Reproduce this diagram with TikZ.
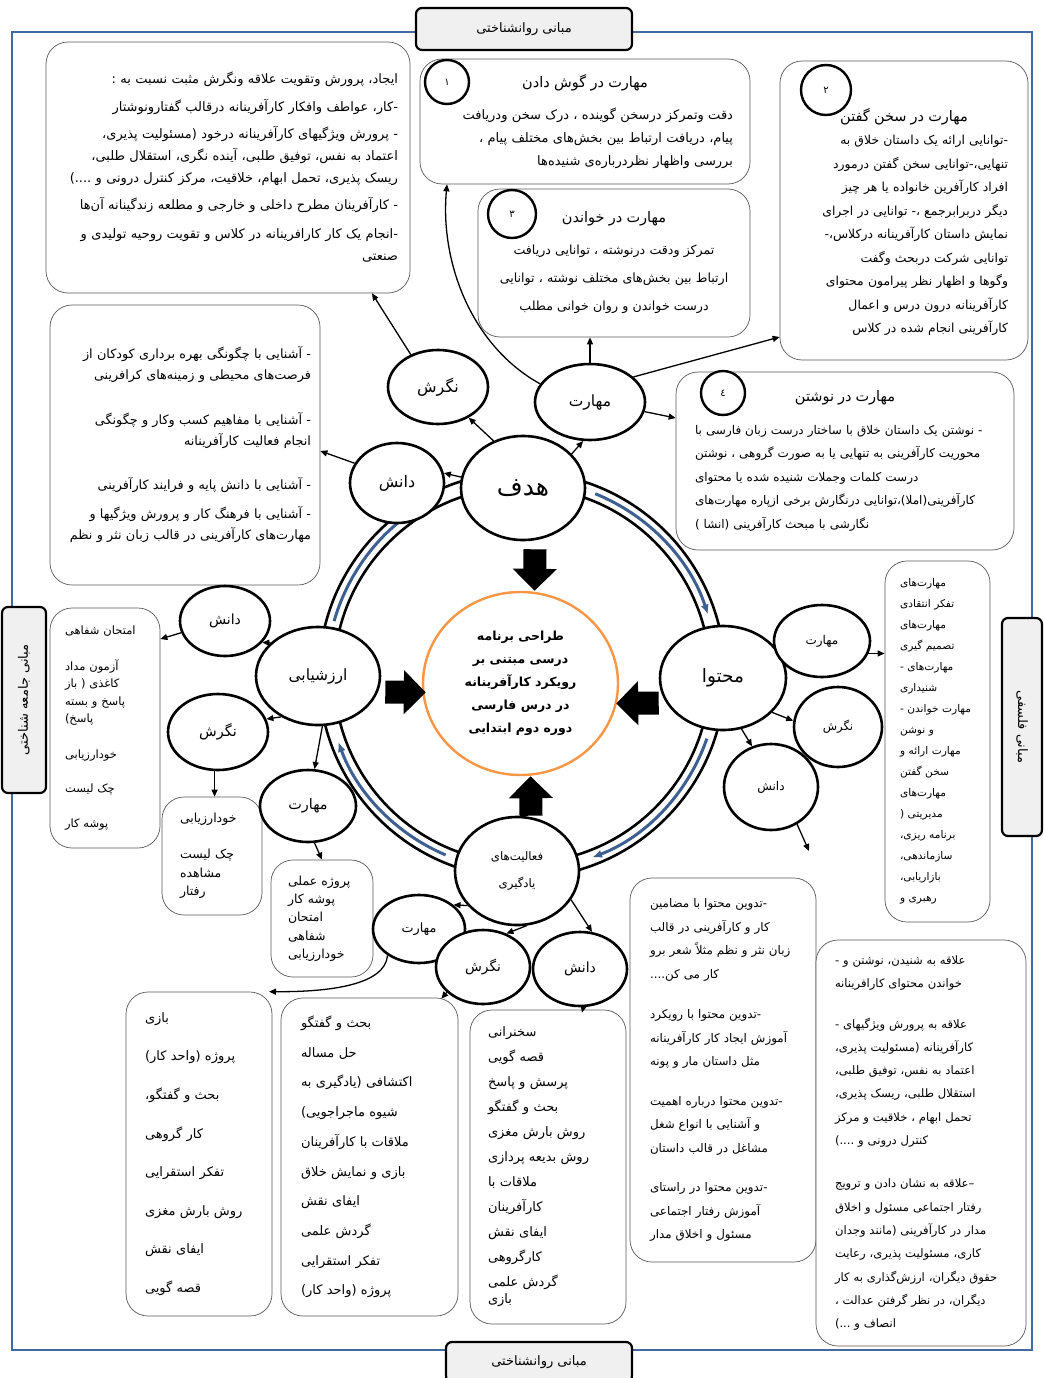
\documentclass[tikz,border=0pt]{standalone}
\usepackage{fontspec}
\usepackage{tikz}
\usetikzlibrary{shapes.geometric,arrows.meta,positioning}
\TeXXeTstate=1
\newfontfamily\fafont[Script=Arabic]{DejaVu Sans}
\newcommand{\rtxt}[1]{\beginR #1\endR}
\newcommand{\cardtitle}[1]{\hspace*{\fill}{\fontsize{14.5}{16}\selectfont\rtxt{#1}}\hspace*{\fill}\mbox{}}
\definecolor{frameblue}{RGB}{68,104,160}
\definecolor{ringblue}{RGB}{62,95,145}
\definecolor{coreorange}{RGB}{247,150,70}
\definecolor{tagfill}{RGB}{240,240,240}
\tikzset{
  fs/.style 2 args={font=\fafont\fontsize{#1}{#2}\selectfont},
  outerframe/.style={draw=frameblue, line width=2.5pt},
  tagbox/.style={draw, line width=2.2pt, rounded corners=6pt, fill=tagfill, fs={13}{15}},
  card/.style={draw=black!65, line width=0.7pt, rounded corners=22pt, fill=white, inner ysep=4pt},
  topic/.style={ellipse, draw, line width=2.6pt, fill=white, inner sep=0pt, fs={15}{17}},
  numring/.style={circle, draw, line width=2.4pt, fill=white, inner sep=0pt, fs={10}{11}},
  link/.style={-{Triangle[width=6pt,length=7pt]}, line width=1.3pt},
  bulk/.style={line width=23pt, -{Triangle[width=43pt,length=22pt]}},
  flowarc/.style={draw=ringblue, line width=3pt, -{Latex[length=10pt,width=8pt]}},
}
\begin{document}
\begin{tikzpicture}[x=1pt,y=1pt]
  \useasboundingbox (0,0) rectangle (1044,-1378);
  \pgfmathsetmacro{\ringout}{203}
  \pgfmathsetmacro{\ringin}{188}
  \pgfmathsetmacro{\ringmid}{(\ringout+\ringin)/2}

  % outer frame
  \draw[outerframe] (12,-32) rectangle (1032,-1350);

  % ring with the cycle arrows
  \coordinate (ringc) at (522,-675);
  \draw[line width=2.6pt] (ringc) circle[radius=\ringout];
  \draw[line width=2.6pt] (ringc) circle[radius=\ringin];
  \foreach \a/\b in {164/114, 68/18, -19/-69, -113/-160}{
    \draw[flowarc] (ringc) ++(\a:\ringmid) arc[start angle=\a, end angle=\b, radius=\ringmid];
  };

  % side tags
  \node[tagbox, minimum width=216, minimum height=42] (tagTop) at (524,-29) {\rtxt{مبانی روانشناختی}};
  \node[tagbox, minimum width=186, minimum height=40] (tagBot) at (539,-1362) {\rtxt{مبانی روانشناختی}};
  \node[tagbox, minimum width=186, minimum height=44, rotate=90] (tagLeft) at (24,-700) {\rtxt{مبانی جامعه شناختی}};
  \node[tagbox, minimum width=218, minimum height=40, rotate=-90] (tagRight) at (1022,-727) {\rtxt{مبانی فلسفی}};

  % cards
  \node[card, minimum width=364, minimum height=251, inner xsep=12, text width=340, align=right, fs={13}{22}] (attbox) at (228,-167.5) {%
    \rtxt{ایجاد، پرورش وتقویت علاقه ونگرش مثبت نسبت به :}\\[6pt]
    \rtxt{-کار، عواطف وافکار کارآفرینانه درقالب گفتارونوشتار}\\[5pt]
    \rtxt{- پرورش ویژگیهای کارآفرینانه درخود (مسئولیت پذیری،}\\
    \rtxt{اعتماد به نفس، توفیق طلبی، آینده نگری، استقلال طلبی،}\\
    \rtxt{ریسک پذیری، تحمل ابهام، خلاقیت، مرکز کنترل درونی و ....)}\\[5pt]
    \rtxt{- کارآفرینان مطرح داخلی و خارجی و مطلعه زندگینانه آن‌ها}\\[7pt]
    \rtxt{-انجام یک کار کارافرینانه در کلاس و تقویت روحیه تولیدی و}\\
    \rtxt{صنعتی}};
  \node[card, minimum width=330, minimum height=125, inner xsep=17, text width=296, align=right, fs={13}{23}] (listenbox) at (585,-121.5) {%
    \cardtitle{مهارت در گوش دادن}\\[9pt]
    \rtxt{دقت وتمرکز درسخن گوینده ، درک سخن ودریافت}\\
    \rtxt{پیام، دریافت ارتباط بین بخش‌های مختلف پیام ،}\\
    \rtxt{بررسی واظهار نظردرباره‌ی شنیده‌ها}};
  \node[card, minimum width=272, minimum height=148, inner xsep=12, text width=248, align=center, fs={12.6}{28}] (readbox) at (614,-263) {%
    {\fontsize{14.5}{16}\selectfont\rtxt{مهارت در خواندن}}\\[4pt]
    \rtxt{تمرکز ودقت درنوشته ، توانایی  دریافت}\\
    \rtxt{ارتباط بین بخش‌های مختلف نوشته ، توانایی}\\
    \rtxt{درست خواندن و روان خوانی مطلب}};
  \node[card, minimum width=248, minimum height=299, inner xsep=20, text width=208, align=right, fs={12.4}{23.5}] (speakbox) at (904,-210.5) {%
    \rule{0pt}{36pt}\cardtitle{مهارت در سخن گفتن}\\
    \rtxt{-توانایی ارائه یک داستان خلاق به}\\
    \rtxt{تنهایی،-توانایی سخن گفتن درمورد}\\
    \rtxt{افراد کارآفرین خانواده یا هر چیز}\\
    \rtxt{دیگر دربرابرجمع ،- توانایی در اجرای}\\
    \rtxt{نمایش داستان کارآفرینانه درکلاس،-}\\
    \rtxt{توانایی شرکت دربحث وگفت}\\
    \rtxt{وگوها و اظهار نظر پیرامون محتوای}\\
    \rtxt{کارآفرینانه درون درس و اعمال}\\
    \rtxt{کارآفرینی انجام شده در کلاس}};
  \node[card, minimum width=338, minimum height=178, inner xsep=19, text width=300, align=left, fs={12}{23.5}] (writebox) at (845,-461) {%
    \cardtitle{مهارت در نوشتن}\\[9pt]
    \rtxt{- نوشتن یک داستان خلاق با ساختار درست زبان فارسی با}\\
    \rtxt{محوریت کارآفرینی به تنهایی یا به صورت گروهی ، نوشتن}\\
    \rtxt{درست کلمات وجملات شنیده شده یا محتوای}\\
    \rtxt{کارآفرینی(املا)،توانایی درنگارش برخی ازپاره مهارت‌های}\\
    \rtxt{نگارشی با مبحث کارآفرینی (انشا )}};
  \node[card, minimum width=270, minimum height=280, inner xsep=9, text width=252, align=right, fs={12.8}{21}] (knowbox) at (185,-445) {%
    \rtxt{- آشنایی با چگونگی بهره برداری کودکان از}\\
    \rtxt{فرصت‌های محیطی و زمینه‌های کرافرینی}\\[24pt]
    \rtxt{- آشنایی با مفاهیم کسب وکار و چگونگی}\\
    \rtxt{انجام فعالیت کارآفرینانه}\\[23pt]
    \rtxt{- آشنایی با دانش پایه و فرایند کارآفرینی}\\[8pt]
    \rtxt{- آشنایی با فرهنگ کار و پرورش  ویژگیها و}\\
    \rtxt{مهارت‌های کارآفرینی در قالب زبان نثر و نظم}};
  \node[card, minimum width=110, minimum height=240, inner xsep=15, text width=80, align=left, fs={11.5}{17.5}] (evalbox) at (105,-728) {%
    \rtxt{امتحان شفاهی}\\[18pt]
    \rtxt{آزمون مداد}\\
    \rtxt{کاغذی ( باز}\\
    \rtxt{پاسخ و بسته}\\
    \rtxt{پاسخ)}\\[18pt]
    \rtxt{خودارزیابی}\\[17pt]
    \rtxt{چک لیست}\\[17pt]
    \rtxt{پوشه کار}};
  \node[card, minimum width=100, minimum height=118, inner xsep=18, text width=64, align=left, fs={12.5}{18.5}] (hbox) at (212,-856) {%
    \rtxt{خودارزیابی}\\[18pt]
    \rtxt{چک لیست}\\
    \rtxt{مشاهده}\\
    \rtxt{رفتار}};
  \node[card, minimum width=102, minimum height=117, inner xsep=17, text width=68, align=left, fs={12.5}{18.3}] (ibox) at (322,-918.5) {%
    \rtxt{پروژه عملی}\\
    \rtxt{پوشه کار}\\
    \rtxt{امتحان}\\
    \rtxt{شفاهی}\\
    \rtxt{خودارزیابی}};
  \node[card, minimum width=105, minimum height=361, inner xsep=15, text width=75, align=left, fs={10.6}{21}] (skillbox) at (937.5,-741.5) {%
    \rtxt{مهارت‌های}\\ \rtxt{تفکر انتقادی}\\
    \rtxt{مهارت‌های}\\ \rtxt{تصمیم گیری}\\
    \rtxt{مهارت‌های -}\\ \rtxt{شنیداری}\\
    \rtxt{مهارت خواندن -}\\ \rtxt{و نوشن}\\
    \rtxt{مهارت ارائه و}\\ \rtxt{سخن گفتن}\\
    \rtxt{مهارت‌های}\\ \rtxt{مدیریتی (}\\
    \rtxt{برنامه ریزی،}\\ \rtxt{سازماندهی،}\\
    \rtxt{بازاریابی،}\\ \rtxt{رهبری و}};
  \node[card, minimum width=146, minimum height=324, inner xsep=19, text width=108, align=left, fs={13}{38.6}] (kbox) at (199,-1154) {%
    \rtxt{بازی}\\ \rtxt{پروژه (واحد کار)}\\ \rtxt{بحث و گفتگو،}\\ \rtxt{کار گروهی}\\
    \rtxt{تفکر استقرایی}\\ \rtxt{روش بارش مغزی}\\ \rtxt{ایفای نقش}\\ \rtxt{قصه گویی}};
  \node[card, minimum width=177, minimum height=318, inner xsep=20, text width=137, align=left, fs={13}{29.7}] (lbox) at (369.5,-1157) {%
    \rtxt{بحث و گفتگو}\\ \rtxt{حل مساله}\\ \rtxt{اکتشافی (یادگیری به}\\ \rtxt{شیوه ماجراجویی)}\\
    \rtxt{ملاقات با کارآفرینان}\\ \rtxt{بازی و نمایش خلاق}\\ \rtxt{ایفای نقش}\\ \rtxt{گردش علمی}\\
    \rtxt{تفکر استقرایی}\\ \rtxt{پروژه (واحد کار)}};
  \node[card, minimum width=156, minimum height=314, inner xsep=18, text width=120, align=left, fs={13}{25}] (mbox) at (548,-1167) {%
    \rtxt{سخنرانی}\\ \rtxt{قصه گویی}\\ \rtxt{پرسش و پاسخ}\\ \rtxt{بحث و گفتگو}\\
    \rtxt{روش بارش مغزی}\\ \rtxt{روش بدیعه پردازی}\\ \rtxt{ملاقات با}\\ \rtxt{کارآفرینان}\\
    \rtxt{ایفای نقش}\\ \rtxt{کارگروهی}\\ \rtxt{گردش علمی}\\[-8pt] \rtxt{بازی}};
  \node[card, minimum width=186, minimum height=384, inner xsep=20, text width=146, align=left, fs={11.9}{23.5}] (contbox) at (723,-1070) {%
    \rtxt{-تدوین محتوا با مضامین}\\ \rtxt{کار و کارآفرینی در قالب}\\
    \rtxt{زبان نثر و نظم مثلاً شعر برو}\\ \rtxt{کار می کن....}\\[17pt]
    \rtxt{-تدوین محتوا با رویکرد}\\ \rtxt{آموزش ایجاد کار کارآفرینانه}\\
    \rtxt{مثل داستان مار و پونه}\\[16pt]
    \rtxt{-تدوین محتوا درباره اهمیت}\\ \rtxt{و آشنایی با انواع  شغل}\\
    \rtxt{مشاغل در قالب داستان}\\[16pt]
    \rtxt{-تدوین محتوا در راستای}\\ \rtxt{آموزش رفتار اجتماعی}\\
    \rtxt{مسئول و اخلاق مدار}};
  \node[card, minimum width=210, minimum height=406, inner xsep=19, text width=172, align=left, fs={11.6}{23.3}] (likebox) at (921,-1143) {%
    \rtxt{علاقه به شنیدن، نوشتن و -}\\ \rtxt{خواندن محتوای کارافرینانه}\\[17pt]
    \rtxt{علاقه به پرورش ویژگیهای -}\\ \rtxt{کارآفرینانه (مسئولیت پذیری،}\\
    \rtxt{اعتماد به نفس، توفیق طلبی،}\\ \rtxt{استقلال طلبی، ریسک پذیری،}\\
    \rtxt{تحمل ابهام ، خلاقیت و مرکز}\\ \rtxt{کنترل درونی و ....)}\\[20pt]
    \rtxt{–علاقه به نشان دادن و ترویج}\\ \rtxt{رفتار اجتماعی مسئول و اخلاق}\\
    \rtxt{مدار در کارآفرینی (مانند وجدان}\\ \rtxt{کاری، مسئولیت پذیری، رعایت}\\
    \rtxt{حقوق دیگران، ارزش‌گذاری به کار}\\ \rtxt{دیگران، در نظر گرفتن عدالت ،}\\
    \rtxt{انصاف و ...)}};

  % numbered rings
  \node[numring, minimum size=44] (numOne) at (447,-82) {\rtxt{١}};
  \node[numring, minimum size=48] (numThree) at (512,-214) {\rtxt{٣}};
  \node[numring, minimum size=50] (numTwo) at (826,-90) {\rtxt{٢}};
  \node[numring, minimum size=44] (numFour) at (723,-393) {\rtxt{٤}};

  % ellipses
  \node[topic, minimum width=124, minimum height=104, fs={25}{27}] (hadaf) at (523,-488) {\rtxt{هدف}};
  \node[topic, minimum width=110, minimum height=76, fs={15.5}{17}] (mahTop) at (590,-402) {\rtxt{مهارت}};
  \node[topic, minimum width=100, minimum height=74, fs={16}{18}] (negTop) at (438,-387) {\rtxt{نگرش}};
  \node[topic, minimum width=94, minimum height=80, fs={16}{18}] (danTop) at (397,-483) {\rtxt{دانش}};
  \node[topic, minimum width=126, minimum height=104, fs={18.5}{20}] (mohtava) at (723,-678) {\rtxt{محتوا}};
  \node[topic, minimum width=124, minimum height=98, fs={15.5}{17}] (arzesh) at (318,-676) {\rtxt{ارزشیابی}};
  \node[topic, minimum width=90, minimum height=70, fs={14}{16}] (danLeft) at (225,-621) {\rtxt{دانش}};
  \node[topic, minimum width=100, minimum height=76, fs={14.5}{16}] (negLeft) at (218,-732) {\rtxt{نگرش}};
  \node[topic, minimum width=96, minimum height=72, fs={14.4}{16}] (mahLeft) at (308,-806) {\rtxt{مهارت}};
  \node[topic, minimum width=124, minimum height=108, align=center, fs={11.7}{27}] (faal) at (517,-871) {\rtxt{فعالیت‌های}\\ \rtxt{یادگیری}};
  \node[topic, minimum width=92, minimum height=68, fs={12.8}{14}] (mahBot) at (419,-929) {\rtxt{مهارت}};
  \node[topic, minimum width=94, minimum height=74, fs={13.8}{15}] (negBot) at (483,-967) {\rtxt{نگرش}};
  \node[topic, minimum width=94, minimum height=74, fs={14}{16}] (danBot) at (580,-969) {\rtxt{دانش}};
  \node[topic, minimum width=96, minimum height=72, fs={12}{14}] (mahRight) at (822,-641) {\rtxt{مهارت}};
  \node[topic, minimum width=88, minimum height=80, fs={11.7}{13}] (negRight) at (838,-727) {\rtxt{نگرش}};
  \node[topic, minimum width=94, minimum height=86, fs={12}{14}] (danRight) at (771,-787) {\rtxt{دانش}};

  % centre
  \node[ellipse, draw=coreorange, line width=2.4pt, fill=white, minimum width=195, minimum height=183, inner sep=0pt, align=center, font=\fafont\bfseries\fontsize{12.5}{23}\selectfont] (core) at (520.5,-683.5) {%
    \rtxt{طراحی برنامه}\\ \rtxt{درسی مبتنی بر}\\ \rtxt{رویکرد کارآفرینانه}\\ \rtxt{در درس فارسی}\\ \rtxt{دوره دوم ابتدایی}};

  % block arrows into the centre
  \draw[bulk] ([shift={(12,-8)}]hadaf.south) -- ([xshift=14]core.north);
  \draw[bulk] ([xshift=14]faal.north) -- ([xshift=10]core.south);
  \draw[bulk] ([shift={(4,-16)}]arzesh.east) -- ([shift={(4,-9)}]core.west);
  \draw[bulk] ([yshift=-25]mohtava.west) -- ([shift={(-3,-20)}]core.east);

  % links around the goal
  \draw[link] (hadaf.35) -- (mahTop.-100);
  \draw[link] (hadaf.122) -- (negTop.-45);
  \draw[link] (hadaf.170) -- (danTop.12);
  \draw[link] (danTop.155) -- ([yshift=-6]knowbox.east);
  \draw[link] (negTop.130) -- ([xshift=144]attbox.south);
  \draw[link] (mahTop.160) .. controls (470,-345) and (440,-260) .. ([xshift=-138]listenbox.south);
  \draw[link] (mahTop.north) -- (readbox.south -| mahTop.north);
  \draw[link] (mahTop.30) -- ([yshift=-126.5]speakbox.west);
  \draw[link] (mahTop.-10) -- ([yshift=43]writebox.west);

  % links around the content
  \draw[link] (mahRight.-15) -- (mahRight.-15 -| skillbox.west);
  \draw[link] (mohtava.-35) -- (negRight.172);
  \draw[link] (mohtava.-70) -- (danRight.115);
  \coordinate (danRightEnd) at (809,-851);
  \draw[link] (danRight.-55) -- (danRightEnd);

  % links around the evaluation
  \draw[link] (arzesh.145) -- (danLeft.-30);
  \draw[link] (danLeft.195) -- ([yshift=89]evalbox.east);
  \draw[link] (arzesh.228) -- (negLeft.15);
  \draw[link] (negLeft.-95) -- (negLeft.-95 |- hbox.north);
  \draw[link] (arzesh.-85) -- (mahLeft.80);
  \draw[link] (mahLeft.-80) -- (ibox.north);

  % links around the activities
  \draw[link] (faal.215) -- (mahBot.35);
  \draw[link] (faal.-80) -- (negBot.55);
  \draw[link] (faal.-28) -- (danBot.72);
  \draw[link] (mahBot.220) .. controls (385,-985) and (330,-992) .. ([xshift=70]kbox.north);
  \draw[link] (negBot.215) -- ([shift={(-17,-1)}]lbox.north east);
  \draw[link] (danBot.-85) -- ([shift={(34,-3)}]mbox.north);
\end{tikzpicture}
\end{document}
